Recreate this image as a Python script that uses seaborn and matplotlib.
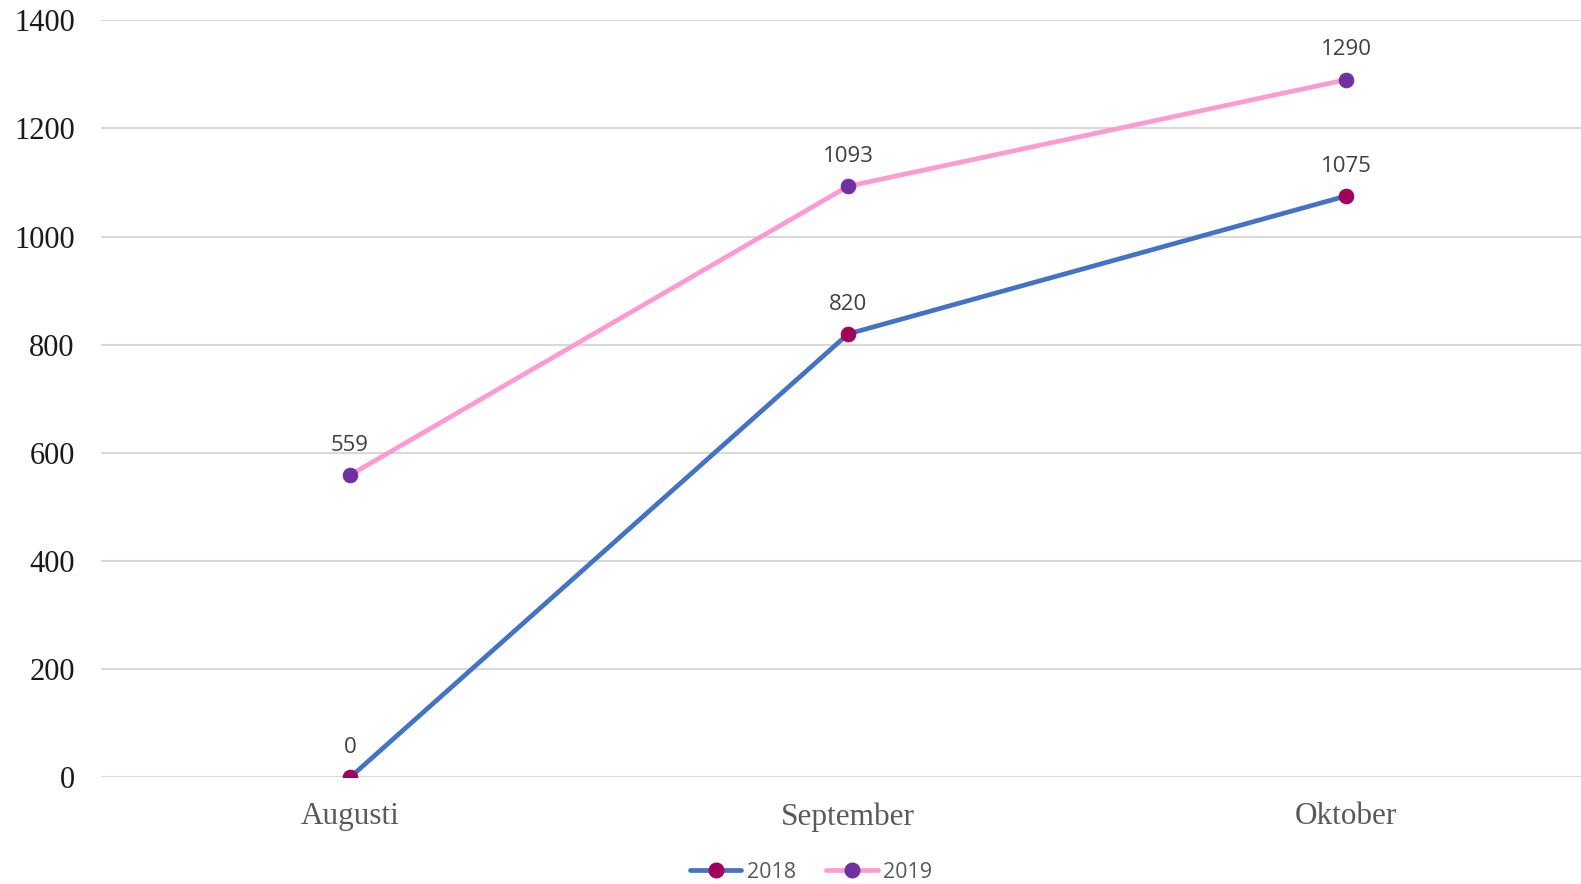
import matplotlib
matplotlib.use("Agg")
import matplotlib.pyplot as plt
import seaborn as sns
from matplotlib.lines import Line2D

sns.set_style("white")

# data
months = ["Augusti", "September", "Oktober"]
values_2018 = [0, 820, 1075]
values_2019 = [559, 1093, 1290]
series_names = ["2018", "2019"]
line_colors = ["#4472C4", "#FF9BD0"]
marker_colors = ["#A0005A", "#7030A0"]

fig = plt.figure(figsize=(15.81, 8.84), dpi=100)
ax = fig.add_axes([0.0639, 0.1205, 0.945, 0.8566])

x = list(range(len(months)))
for name, vals, lc, mc in zip(series_names, [values_2018, values_2019], line_colors, marker_colors):
    sns.lineplot(x=x, y=vals, ax=ax, color=lc, linewidth=3.4, marker="o",
                 markersize=10.5, markerfacecolor=mc, markeredgecolor=mc, zorder=3)
    for xi, v in zip(x, vals):
        ax.annotate(str(v), (xi, v), xytext=(0, 14), textcoords="offset points",
                    ha="center", va="bottom", fontsize=16, color="#404040",
                    family="Open Sans")

ax.set_xlim(-0.5, 2.5)
ax.set_ylim(0, 1400)
ax.set_yticks(range(0, 1401, 200))
ax.set_xticks(x)
ax.set_xticklabels(months, family="Liberation Serif", fontsize=22.5, color="#595959")
ax.set_yticklabels([str(t) for t in range(0, 1401, 200)], family="Liberation Serif",
                   fontsize=22, color="#1a1a1a")
ax.tick_params(axis="x", length=0, pad=18)
ax.tick_params(axis="y", length=0, pad=19)
ax.grid(axis="y", color="#D9D9D9", linewidth=1.5)
ax.grid(axis="x", visible=False)
for s in ax.spines.values():
    s.set_visible(False)

handles = [Line2D([], [], color=lc, linewidth=3.4, marker="o", markersize=10.5,
                  markerfacecolor=mc, markeredgecolor=mc)
           for lc, mc in zip(line_colors, marker_colors)]
leg = fig.legend(handles, series_names, loc="center", bbox_to_anchor=(0.513, 0.013),
                 ncol=2, frameon=False, handlelength=2.4, handletextpad=0.25,
                 columnspacing=1.4, prop={"family": "Open Sans", "size": 15.5})
for t in leg.get_texts():
    t.set_color("#595959")

fig.savefig("out.png", dpi=100)
